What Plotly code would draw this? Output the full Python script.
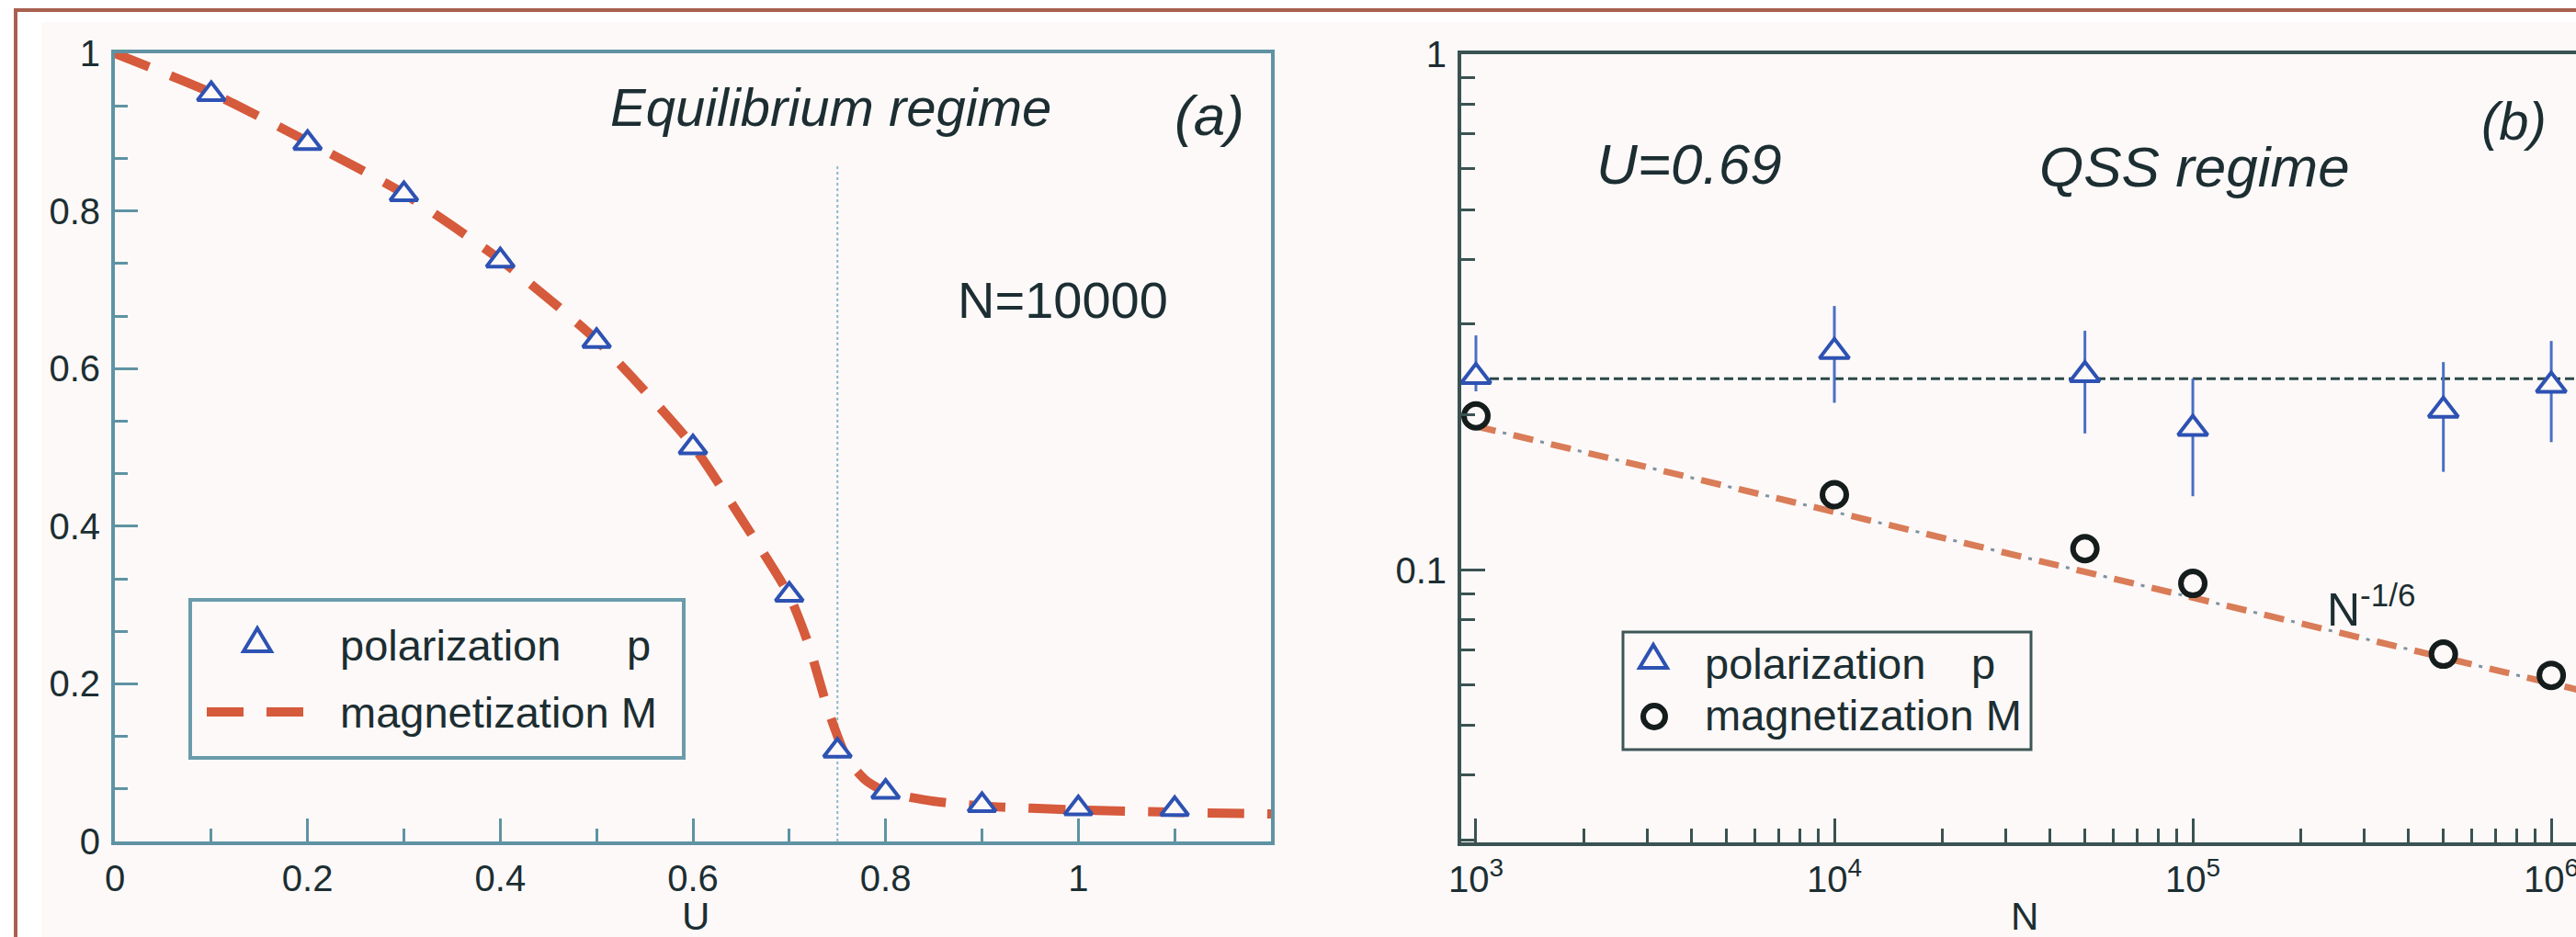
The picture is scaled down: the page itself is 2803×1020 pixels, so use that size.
import plotly.graph_objects as go

# ---------------- data : panel (a) equilibrium ----------------
U_p = [0.1, 0.2, 0.3, 0.4, 0.5, 0.6, 0.7, 0.75, 0.8, 0.9, 1.0, 1.1]
P_eq = [0.948, 0.886, 0.821, 0.737, 0.635, 0.500, 0.313, 0.115, 0.063, 0.046, 0.042, 0.041]
U_m = [0, 0.1, 0.2, 0.3, 0.4, 0.5, 0.6, 0.65, 0.7, 0.72, 0.74, 0.76, 0.78, 0.8, 0.85, 0.9, 1.0, 1.1, 1.2]
M_eq = [1.0, 0.95, 0.888, 0.822, 0.738, 0.636, 0.502, 0.41, 0.312, 0.25, 0.168, 0.105, 0.077,
        0.063, 0.051, 0.045, 0.040, 0.037, 0.035]
U_crit = [0.75, 0.75]
V_crit = [0.0, 0.86]
x_ticks_a = [0, 0.2, 0.4, 0.6, 0.8, 1.0]
x_labels_a = ["0", "0.2", "0.4", "0.6", "0.8", "1"]
y_ticks_a = [0, 0.2, 0.4, 0.6, 0.8, 1.0]
y_labels_a = ["0", "0.2", "0.4", "0.6", "0.8", "1"]

# ---------------- data : panel (b) QSS ----------------
N_pts = [1e3, 1e4, 5e4, 1e5, 5e5, 1e6]
P_qss = [0.237, 0.265, 0.239, 0.188, 0.204, 0.228]
P_err_plus = [0.048, 0.060, 0.052, 0.047, 0.049, 0.050]
P_err_minus = [0.015, 0.054, 0.055, 0.049, 0.049, 0.051]
M_qss = [0.199, 0.140, 0.110, 0.0942, 0.0687, 0.0625]
N_plateau = [1e3, 1.2e6]
P_plateau = [0.235, 0.235]
N_fit = [1e3, 1.2e6]
M_fit = [0.190, 0.0585]
x_ticks_b = [1e3, 1e4, 1e5, 1e6]
x_labels_b = ["10<sup>3</sup>", "10<sup>4</sup>", "10<sup>5</sup>", "10<sup>6</sup>"]
y_ticks_b = [0.1, 1]
y_labels_b = ["0.1", "1"]

# ---------------- style ----------------
W, H = 2803, 1020
FONT = "Liberation Sans, Arial, Helvetica, sans-serif"
TXT = "#1c2e32"
BG = "#fdf9f8"
RED = "#d65a3c"
BLUE = "#2d52b3"
TEAL = "#5f93a3"
SLATE = "#3a5252"
ORANGE = "#d97c58"


def px(x):
    return x / W


def py(y):
    return 1 - y / H


fig = go.Figure()

# panel (a)
fig.add_trace(go.Scatter(x=U_crit, y=V_crit, mode="lines",
                         line=dict(color="#8db6c9", width=2, dash="dot"),
                         xaxis="x", yaxis="y", showlegend=False, hoverinfo="skip"))
fig.add_trace(go.Scatter(x=U_m, y=M_eq, mode="lines", name="magnetization M",
                         line=dict(color=RED, width=10, dash="40px,25px", shape="spline", smoothing=0.6),
                         xaxis="x", yaxis="y", showlegend=False))
fig.add_trace(go.Scatter(x=U_p, y=P_eq, mode="markers", name="polarization p",
                         marker=dict(symbol="triangle-up", size=26, color=BG, line=dict(color=BLUE, width=4)),
                         xaxis="x", yaxis="y", showlegend=False))

# panel (b)
fig.add_trace(go.Scatter(x=N_plateau, y=P_plateau, mode="lines",
                         line=dict(color="#2b4848", width=3, dash="10px,5px"),
                         xaxis="x2", yaxis="y2", showlegend=False, hoverinfo="skip"))
fig.add_trace(go.Scatter(x=N_fit, y=M_fit, mode="lines",
                         line=dict(color=ORANGE, width=7, dash="22px,20px"),
                         xaxis="x2", yaxis="y2", showlegend=False, hoverinfo="skip"))
fig.add_trace(go.Scatter(x=N_fit, y=M_fit, mode="lines",
                         line=dict(color="#7f92a2", width=3, dash="0px,30px,4px,8px"),
                         xaxis="x2", yaxis="y2", showlegend=False, hoverinfo="skip"))
fig.add_trace(go.Scatter(x=N_pts, y=P_qss, mode="markers", name="polarization p",
                         error_y=dict(type="data", array=P_err_plus, arrayminus=P_err_minus,
                                      color="#4a6fc4", thickness=3, width=0),
                         marker=dict(symbol="triangle-up", size=28, color=BG, line=dict(color=BLUE, width=4)),
                         xaxis="x2", yaxis="y2", showlegend=False))
fig.add_trace(go.Scatter(x=N_pts, y=M_qss, mode="markers", name="magnetization M",
                         marker=dict(symbol="circle", size=26, color=BG, line=dict(color="#141c1c", width=6)),
                         xaxis="x2", yaxis="y2", showlegend=False))

axis_common = dict(showgrid=False, zeroline=False, showline=True, ticks="inside",
                   tickfont=dict(family=FONT, size=40, color=TXT), automargin=False,
                   ticklabeloverflow="allow")

minor_y_b = [k / 100 for k in range(3, 10)] + [k / 10 for k in range(2, 10)]
minor_x_b = [k * 10 ** e for e in range(2, 7) for k in range(2, 10)]

shapes = [
    # pale page background and brown frame
    dict(type="rect", xref="paper", yref="paper", x0=px(45), x1=1.02, y0=-0.02, y1=py(24),
         fillcolor=BG, line=dict(width=0), layer="below"),
    dict(type="line", xref="paper", yref="paper", x0=px(17), x1=px(17), y0=-0.02, y1=py(11),
         line=dict(color="#a9604f", width=4), layer="below"),
    dict(type="line", xref="paper", yref="paper", x0=px(15), x1=1.02, y0=py(11), y1=py(11),
         line=dict(color="#a9604f", width=4), layer="below"),
    # legend (a)
    dict(type="rect", xref="paper", yref="paper", x0=px(207), x1=px(744), y0=py(825), y1=py(653),
         line=dict(color="#6a9cab", width=4), fillcolor=BG),
    dict(type="path", xref="paper", yref="paper", xsizemode="pixel", ysizemode="pixel",
         xanchor=px(280), yanchor=py(703), path="M -15,-6 L 15,-6 L 0,19 Z",
         line=dict(color=BLUE, width=4), fillcolor=BG),
    dict(type="line", xref="paper", yref="paper", x0=px(225), x1=px(330), y0=py(775), y1=py(775),
         line=dict(color=RED, width=10, dash="40px,25px")),
    # legend (b)
    dict(type="rect", xref="paper", yref="paper", x0=px(1766), x1=px(2210), y0=py(816), y1=py(688),
         line=dict(color="#3f5656", width=3), fillcolor=BG),
    dict(type="path", xref="paper", yref="paper", xsizemode="pixel", ysizemode="pixel",
         xanchor=px(1799), yanchor=py(721), path="M -15,-6 L 15,-6 L 0,19 Z",
         line=dict(color=BLUE, width=4), fillcolor=BG),
    dict(type="circle", xref="paper", yref="paper", xsizemode="pixel", ysizemode="pixel",
         xanchor=px(1800), yanchor=py(780), x0=-12, x1=12, y0=-12, y1=12,
         line=dict(color="#141c1c", width=6), fillcolor=BG),
]


def ann(text, x, y, size, xanchor="center", yanchor="middle"):
    return dict(text=text, x=px(x), y=py(y), xref="paper", yref="paper", showarrow=False,
                xanchor=xanchor, yanchor=yanchor, font=dict(family=FONT, size=size, color=TXT))


annotations = [
    ann("<i>Equilibrium regime</i>", 904, 116, 58),
    ann("<i>(a)</i>", 1316, 125, 62),
    ann("N=10000", 1156, 327, 56),
    ann("U", 757, 997, 42),
    ann("polarization", 368, 702, 47, xanchor="left"),
    ann("p", 680, 702, 47, xanchor="left"),
    ann("magnetization M", 368, 775, 47, xanchor="left"),
    ann("<i>U=0.69</i>", 1838, 178, 62),
    ann("<i>QSS regime</i>", 2388, 181, 62),
    ann("<i>(b)</i>", 2735, 131, 58),
    ann("N<sup>-1/6</sup>", 2530, 694, 50, xanchor="left", yanchor="bottom"),
    ann("N", 2203, 997, 42),
    ann("polarization", 1853, 722, 47, xanchor="left"),
    ann("p", 2143, 722, 47, xanchor="left"),
    ann("magnetization M", 1853, 778, 47, xanchor="left"),
]

fig.update_layout(
    width=W, height=H, autosize=False,
    margin=dict(l=0, r=0, t=0, b=0, pad=0),
    paper_bgcolor="white", plot_bgcolor="rgba(0,0,0,0)",
    showlegend=False,
    xaxis=dict(axis_common, domain=[px(125), px(1383)], range=[0, 1.2],
               tickvals=x_ticks_a, ticktext=x_labels_a, ticklen=25, tickwidth=3, tickcolor=TEAL,
               linecolor=TEAL, linewidth=4, mirror=True, anchor="y", ticklabelstandoff=2,
               minor=dict(dtick=0.1, ticklen=14, tickwidth=3, tickcolor=TEAL, ticks="inside", showgrid=False)),
    yaxis=dict(axis_common, domain=[py(916), py(58)], range=[0, 1],
               tickvals=y_ticks_a, ticktext=y_labels_a, ticklen=25, tickwidth=3, tickcolor=TEAL,
               linecolor=TEAL, linewidth=4, mirror=True, anchor="x", ticklabelstandoff=4,
               minor=dict(dtick=0.2 / 3, ticklen=14, tickwidth=3, tickcolor=TEAL, ticks="inside", showgrid=False)),
    xaxis2=dict(axis_common, type="log", domain=[px(1590), 1.0], range=[2.959, 6.069],
                tickvals=x_ticks_b, ticktext=x_labels_b, ticklen=26, tickwidth=3, tickcolor=SLATE,
                linecolor=SLATE, linewidth=4, mirror=True, anchor="y2", ticklabelstandoff=2,
                minor=dict(tickvals=minor_x_b, ticklen=15, tickwidth=3, tickcolor=SLATE, ticks="inside", showgrid=False)),
    yaxis2=dict(axis_common, type="log", domain=[py(917), py(59)], range=[-1.528, 0],
                tickvals=y_ticks_b, ticktext=y_labels_b, ticklen=26, tickwidth=3, tickcolor=SLATE,
                linecolor=SLATE, linewidth=4, mirror=False, anchor="x2", ticklabelstandoff=4,
                minor=dict(tickvals=minor_y_b, ticklen=15, tickwidth=3, tickcolor=SLATE, ticks="inside", showgrid=False)),
    shapes=shapes,
    annotations=annotations,
)

fig.write_html("out.html")
